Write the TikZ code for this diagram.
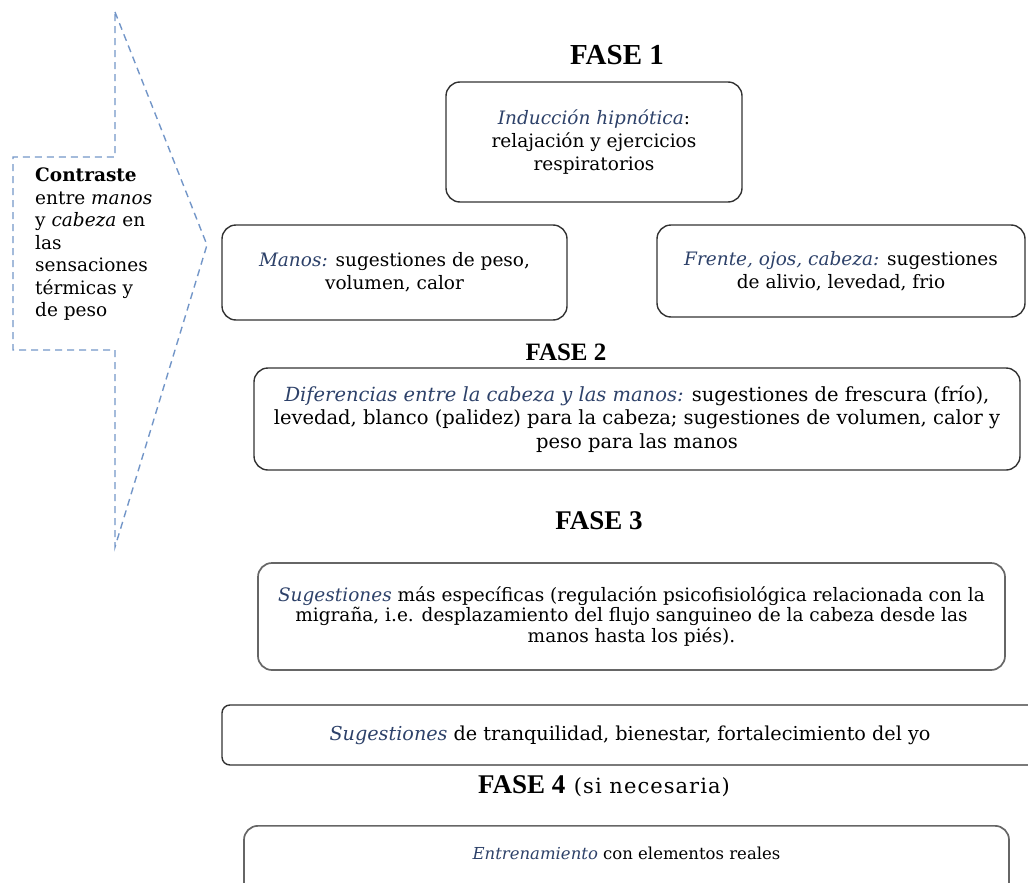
\documentclass[tikz,border=0pt]{standalone}
\usepackage{fontspec}
\setmainfont{DejaVu Serif}
\newfontfamily\titlefont{Liberation Serif}
\usetikzlibrary{positioning}

\definecolor{labelblue}{RGB}{45,65,105}
\definecolor{arrowblue}{RGB}{115,150,200}
\definecolor{boxgray}{RGB}{50,50,50}
\newcommand{\kw}[1]{\textcolor{labelblue}{\textit{#1}}}
\newcommand{\fase}[1]{{\titlefont\bfseries FASE #1}}

\begin{document}
\begin{tikzpicture}[x=1pt, y=-1pt,
  phase/.style={draw=boxgray, line width=1.4pt, rounded corners=14pt, align=center,
    font=\fontsize{18.5}{23}\selectfont},
  title/.style={font=\fontsize{25}{28}\selectfont},
  contrast/.style={align=left, anchor=north west, inner sep=0pt,
    font=\fontsize{18.5}{22.5}\selectfont}]
  \clip (0,0) rectangle (1028,883);

  % dashed arrow on the left
  \draw[arrowblue, line width=1.4pt, dash pattern=on 7pt off 5pt]
    (115,12) -- (207,245) -- (115,547) -- (115,350) -- (13,350)
    -- (13,157) -- (115,157) -- cycle;
  \node (contraste) [contrast] at (35,168)
    {\textbf{Contraste}\\ entre \textit{manos}\\ y \textit{cabeza} en\\ las\\ sensaciones\\ térmicas y\\ de peso};

  % FASE 1
  \node (fase1) [title, font=\fontsize{29}{32}\selectfont] at (617,55) {\fase{1}};
  \node (induccion) [phase, minimum width=296pt, minimum height=120pt] at (594,142)
    {\kw{Inducción hipnótica}:\\ relajación y ejercicios\\ respiratorios};
  \node (manos) [phase, minimum width=345pt, minimum height=95pt] at (394.5,272.5)
    {\kw{Manos:} sugestiones de peso,\\ volumen, calor};
  \node (frente) [phase, minimum width=368pt, minimum height=92pt] at (841,271)
    {\kw{Frente, ojos, cabeza:} sugestiones\\ de alivio, levedad, frio};

  % FASE 2
  \node (fase2) [title] at (566,352) {\fase{2}};
  \node (diferencias) [phase, minimum width=766pt, minimum height=102pt,
    font=\fontsize{19.5}{23.5}\selectfont] at (637,419)
    {\kw{Diferencias entre la cabeza y las manos:} sugestiones de frescura (frío),\\
     levedad, blanco (palidez) para la cabeza; sugestiones de volumen, calor y\\
     peso para las manos};

  % FASE 3
  \node (fase3) [title, font=\fontsize{27}{30}\selectfont] at (599,521) {\fase{3}};
  \node (especificas) [phase, draw=black!60, line width=1.7pt, minimum width=747pt,
    minimum height=107pt, font=\fontsize{18.5}{20.5}\selectfont] at (631.5,616.5)
    {\kw{Sugestiones} más específicas (regulación psicofisiológica relacionada con la\\
     migraña, i.e. desplazamiento del flujo sanguineo de la cabeza desde las\\
     manos hasta los piés).};
  \node (tranquilidad) [phase, rounded corners=8pt, minimum width=816pt, minimum height=60pt,
    font=\fontsize{19.2}{23}\selectfont] at (630,735)
    {\kw{Sugestiones} de tranquilidad, bienestar, fortalecimiento del yo};

  % FASE 4
  \node (fase4) [title, font=\fontsize{27}{30}\selectfont] at (604,786)
    {\fase{4} {\fontsize{21}{24}\selectfont\addfontfeature{LetterSpace=5}(si necesaria)}};
  \node (entrenamiento) [phase, draw=black!60, line width=1.7pt, anchor=north,
    minimum width=765pt, inner ysep=6pt, text height=28pt, text depth=40pt,
    font=\fontsize{16.5}{20}\selectfont] at (626.5,825)
    {\kw{Entrenamiento} con elementos reales};
\end{tikzpicture}
\end{document}
